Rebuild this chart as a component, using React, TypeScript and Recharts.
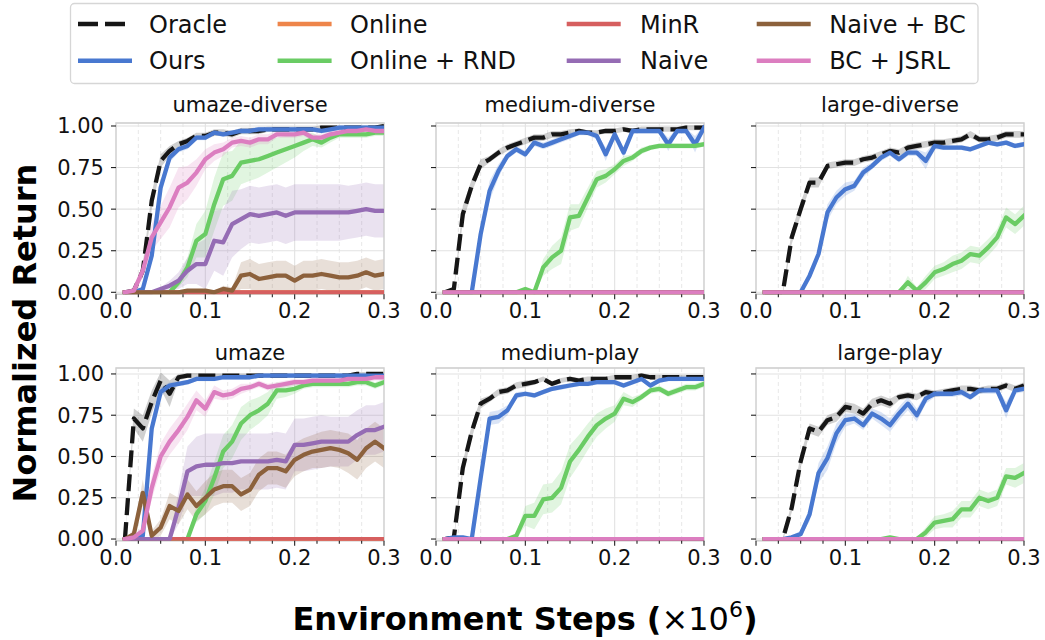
import React from 'react';
import { ComposedChart, Line, Area, XAxis, YAxis, CartesianGrid, ReferenceArea } from 'recharts';

const FONT = '"DejaVu Sans", sans-serif';

// x positions of the samples (x 10^6 environment steps)
const steps = [0.01, 0.02, 0.03, 0.04, 0.05, 0.06, 0.07, 0.08, 0.09, 0.1, 0.11, 0.12, 0.13, 0.14, 0.15, 0.16, 0.17, 0.18, 0.19, 0.2, 0.21, 0.22, 0.23, 0.24, 0.25, 0.26, 0.27, 0.28, 0.29, 0.3];
const xTicks = [0, 0.025, 0.05, 0.075, 0.1, 0.125, 0.15, 0.175, 0.2, 0.225, 0.25, 0.275, 0.3];
const xMinorGrid = [0.025, 0.05, 0.075, 0.125, 0.15, 0.175, 0.225, 0.25, 0.275];
const xMajorGrid = [0.1, 0.2];
const yTicks = [0, 0.25, 0.5, 0.75, 1];
const zeros = [0, 0, 0, 0, 0, 0, 0, 0, 0, 0, 0, 0, 0, 0, 0, 0, 0, 0, 0, 0, 0, 0, 0, 0, 0, 0, 0, 0, 0, 0];

// umaze-diverse
const udOracle = [0, 0.01, 0.13, 0.55, 0.79, 0.85, 0.89, 0.91, 0.94, 0.94, 0.96, 0.96, 0.95, 0.97, 0.97, 0.97, 0.98, 0.98, 0.98, 0.98, 0.98, 0.98, 0.99, 0.99, 0.99, 0.99, 0.99, 0.99, 0.99, 1.0];
const udOracleSd = [0, 0.01, 0.04, 0.05, 0.04, 0.03, 0.02, 0.02, 0.02, 0.02, 0.02, 0.02, 0.02, 0.02, 0.02, 0.02, 0.015, 0.015, 0.015, 0.015, 0.015, 0.015, 0.015, 0.015, 0.012, 0.012, 0.012, 0.012, 0.012, 0.012];
const udOurs = [0, 0, 0.02, 0.22, 0.63, 0.81, 0.86, 0.88, 0.93, 0.93, 0.96, 0.95, 0.96, 0.97, 0.97, 0.98, 0.98, 0.98, 0.98, 0.98, 0.98, 0.98, 0.97, 0.98, 0.99, 0.99, 0.99, 0.99, 0.99, 0.99];
const udOursSd = [0, 0, 0.01, 0.04, 0.04, 0.03, 0.02, 0.02, 0.015, 0.015, 0.015, 0.015, 0.015, 0.015, 0.015, 0.015, 0.015, 0.015, 0.015, 0.015, 0.015, 0.015, 0.015, 0.015, 0.015, 0.015, 0.015, 0.015, 0.015, 0.015];
const udRnd = [0, 0, 0, 0, 0, 0, 0.06, 0.15, 0.31, 0.35, 0.53, 0.68, 0.70, 0.78, 0.79, 0.80, 0.82, 0.84, 0.86, 0.88, 0.90, 0.92, 0.90, 0.93, 0.95, 0.95, 0.95, 0.95, 0.96, 0.96];
const udRndSd = [0, 0, 0, 0, 0, 0, 0.03, 0.06, 0.1, 0.14, 0.16, 0.16, 0.15, 0.13, 0.12, 0.11, 0.1, 0.09, 0.08, 0.07, 0.05, 0.04, 0.03, 0.03, 0.02, 0.02, 0.02, 0.02, 0.02, 0.02];
const udNaive = [0, 0, 0, 0, 0.02, 0.04, 0.07, 0.13, 0.17, 0.17, 0.31, 0.30, 0.41, 0.44, 0.47, 0.46, 0.47, 0.48, 0.46, 0.48, 0.48, 0.48, 0.48, 0.48, 0.48, 0.48, 0.49, 0.50, 0.49, 0.49];
const udNaiveSd = [0, 0, 0, 0, 0.01, 0.03, 0.05, 0.08, 0.12, 0.15, 0.18, 0.2, 0.2, 0.18, 0.17, 0.17, 0.17, 0.17, 0.17, 0.17, 0.17, 0.17, 0.17, 0.17, 0.17, 0.16, 0.16, 0.16, 0.16, 0.16];
const udNaiveBc = [0, 0, 0, 0, 0, 0, 0, 0.01, 0.01, 0.01, 0, 0.02, 0.01, 0.10, 0.11, 0.08, 0.09, 0.10, 0.10, 0.07, 0.10, 0.10, 0.11, 0.10, 0.09, 0.09, 0.10, 0.12, 0.10, 0.11];
const udNaiveBcSd = [0, 0, 0, 0, 0, 0, 0, 0.01, 0.01, 0.01, 0.01, 0.02, 0.02, 0.08, 0.09, 0.09, 0.09, 0.09, 0.09, 0.09, 0.09, 0.09, 0.09, 0.09, 0.09, 0.09, 0.09, 0.09, 0.09, 0.09];
const udJsrl = [0, 0.01, 0.13, 0.33, 0.42, 0.51, 0.63, 0.66, 0.72, 0.80, 0.84, 0.86, 0.90, 0.91, 0.90, 0.92, 0.92, 0.95, 0.95, 0.95, 0.96, 0.93, 0.93, 0.95, 0.96, 0.97, 0.97, 0.98, 0.97, 0.97];
const udJsrlSd = [0, 0.01, 0.04, 0.08, 0.1, 0.12, 0.12, 0.1, 0.08, 0.06, 0.05, 0.04, 0.03, 0.03, 0.03, 0.03, 0.03, 0.02, 0.02, 0.02, 0.02, 0.02, 0.02, 0.02, 0.02, 0.015, 0.015, 0.015, 0.015, 0.015];

// medium-diverse
const mdOracle = [0, 0.02, 0.47, 0.64, 0.77, 0.80, 0.84, 0.87, 0.89, 0.91, 0.93, 0.93, 0.95, 0.95, 0.96, 0.97, 0.96, 0.96, 0.97, 0.97, 0.98, 0.97, 0.98, 0.98, 0.98, 0.98, 0.98, 0.99, 0.99, 0.99];
const mdOracleSd = [0, 0.01, 0.05, 0.04, 0.03, 0.02, 0.02, 0.02, 0.02, 0.02, 0.02, 0.02, 0.02, 0.02, 0.02, 0.015, 0.015, 0.015, 0.015, 0.015, 0.015, 0.015, 0.015, 0.015, 0.015, 0.015, 0.015, 0.015, 0.015, 0.015];
const mdOurs = [0, 0, 0, 0, 0.35, 0.61, 0.73, 0.82, 0.86, 0.83, 0.90, 0.88, 0.90, 0.92, 0.94, 0.96, 0.96, 0.94, 0.83, 0.95, 0.84, 0.97, 0.97, 0.97, 0.97, 0.89, 0.97, 0.97, 0.89, 0.99];
const mdOursSd = [0, 0, 0, 0, 0.04, 0.06, 0.04, 0.02, 0.02, 0.02, 0.02, 0.02, 0.02, 0.02, 0.02, 0.015, 0.015, 0.02, 0.04, 0.02, 0.03, 0.015, 0.015, 0.015, 0.015, 0.04, 0.015, 0.015, 0.05, 0.015];
const mdRnd = [0, 0, 0, 0, 0, 0, 0, 0, 0, 0.02, 0, 0.15, 0.21, 0.25, 0.45, 0.46, 0.57, 0.68, 0.70, 0.74, 0.79, 0.81, 0.85, 0.87, 0.88, 0.88, 0.88, 0.88, 0.88, 0.89];
const mdRndSd = [0, 0, 0, 0, 0, 0, 0, 0, 0, 0.01, 0.01, 0.05, 0.07, 0.08, 0.08, 0.07, 0.06, 0.05, 0.04, 0.03, 0.03, 0.02, 0.02, 0.015, 0.015, 0.015, 0.015, 0.015, 0.015, 0.015];

// large-diverse
const ldOracle = [0, 0, 0, 0.33, 0.50, 0.66, 0.66, 0.76, 0.77, 0.78, 0.78, 0.80, 0.81, 0.83, 0.85, 0.84, 0.87, 0.88, 0.89, 0.90, 0.90, 0.91, 0.92, 0.95, 0.92, 0.92, 0.93, 0.95, 0.95, 0.95];
const ldOracleSd = [0, 0, 0.01, 0.04, 0.04, 0.03, 0.03, 0.02, 0.02, 0.02, 0.02, 0.02, 0.02, 0.02, 0.02, 0.02, 0.02, 0.02, 0.02, 0.02, 0.02, 0.02, 0.02, 0.02, 0.02, 0.02, 0.02, 0.02, 0.02, 0.02];
const ldOurs = [0, 0, 0, 0, 0, 0.10, 0.23, 0.48, 0.57, 0.62, 0.64, 0.72, 0.76, 0.81, 0.84, 0.80, 0.84, 0.84, 0.79, 0.88, 0.87, 0.87, 0.87, 0.86, 0.88, 0.90, 0.89, 0.90, 0.88, 0.89];
const ldOursSd = [0, 0, 0, 0, 0, 0.02, 0.03, 0.05, 0.04, 0.04, 0.03, 0.03, 0.02, 0.02, 0.02, 0.02, 0.02, 0.02, 0.05, 0.02, 0.015, 0.015, 0.015, 0.015, 0.015, 0.015, 0.015, 0.015, 0.015, 0.015];
const ldRnd = [0, 0, 0, 0, 0, 0, 0, 0, 0, 0, 0, 0, 0, 0, 0, 0, 0.06, 0.01, 0.06, 0.12, 0.14, 0.17, 0.19, 0.23, 0.22, 0.27, 0.33, 0.45, 0.41, 0.46];
const ldRndSd = [0, 0, 0, 0, 0, 0, 0, 0, 0, 0, 0, 0, 0, 0, 0, 0, 0.04, 0.02, 0.04, 0.04, 0.04, 0.05, 0.05, 0.05, 0.05, 0.05, 0.05, 0.06, 0.06, 0.06];

// umaze
const uOracle = [0, 0.73, 0.67, 0.83, 0.96, 0.88, 0.98, 0.99, 0.99, 0.99, 0.99, 0.99, 0.99, 0.99, 0.99, 0.99, 0.99, 0.99, 0.99, 0.99, 0.99, 0.99, 0.99, 0.99, 0.99, 0.99, 1.0, 1.0, 1.0, 1.0];
const uOracleSd = [0, 0.06, 0.08, 0.07, 0.05, 0.08, 0.02, 0.015, 0.015, 0.012, 0.012, 0.012, 0.012, 0.012, 0.012, 0.012, 0.012, 0.012, 0.012, 0.012, 0.012, 0.012, 0.012, 0.012, 0.012, 0.012, 0.012, 0.012, 0.012, 0.012];
const uOurs = [0, 0, 0.02, 0.67, 0.89, 0.93, 0.94, 0.95, 0.97, 0.97, 0.97, 0.98, 0.98, 0.98, 0.98, 0.99, 0.99, 0.99, 0.99, 0.99, 0.99, 0.99, 0.99, 0.99, 0.99, 0.99, 0.99, 0.99, 0.99, 0.99];
const uOursSd = [0, 0, 0.01, 0.05, 0.03, 0.02, 0.015, 0.015, 0.015, 0.015, 0.015, 0.015, 0.015, 0.015, 0.015, 0.015, 0.015, 0.015, 0.015, 0.015, 0.015, 0.015, 0.015, 0.015, 0.015, 0.015, 0.015, 0.015, 0.015, 0.015];
const uRnd = [0, 0, 0, 0, 0, 0, 0, 0, 0.15, 0.23, 0.37, 0.53, 0.59, 0.70, 0.75, 0.78, 0.82, 0.90, 0.90, 0.91, 0.93, 0.94, 0.94, 0.94, 0.94, 0.94, 0.95, 0.95, 0.93, 0.95];
const uRndSd = [0, 0, 0, 0, 0, 0, 0, 0, 0.05, 0.08, 0.1, 0.1, 0.1, 0.1, 0.09, 0.08, 0.07, 0.05, 0.04, 0.03, 0.02, 0.02, 0.02, 0.02, 0.02, 0.02, 0.02, 0.02, 0.02, 0.02];
const uNaive = [0, 0, 0, 0, 0, 0, 0.19, 0.41, 0.44, 0.45, 0.45, 0.46, 0.46, 0.47, 0.47, 0.47, 0.47, 0.48, 0.47, 0.57, 0.57, 0.58, 0.59, 0.59, 0.59, 0.59, 0.63, 0.66, 0.66, 0.68];
const uNaiveSd = [0, 0, 0, 0, 0, 0.01, 0.1, 0.15, 0.18, 0.19, 0.19, 0.18, 0.18, 0.17, 0.17, 0.17, 0.17, 0.17, 0.17, 0.16, 0.16, 0.16, 0.16, 0.15, 0.15, 0.15, 0.15, 0.15, 0.15, 0.15];
const uNaiveBc = [0, 0.03, 0.28, 0.02, 0.07, 0.20, 0.17, 0.27, 0.20, 0.25, 0.30, 0.32, 0.32, 0.27, 0.30, 0.39, 0.43, 0.43, 0.41, 0.48, 0.51, 0.53, 0.54, 0.55, 0.54, 0.52, 0.48, 0.55, 0.59, 0.55];
const uNaiveBcSd = [0, 0.03, 0.08, 0.03, 0.05, 0.08, 0.08, 0.09, 0.09, 0.1, 0.1, 0.1, 0.1, 0.1, 0.1, 0.1, 0.1, 0.1, 0.1, 0.1, 0.1, 0.1, 0.11, 0.11, 0.11, 0.12, 0.12, 0.12, 0.12, 0.12];
const uJsrl = [0, 0.01, 0.05, 0.31, 0.50, 0.59, 0.66, 0.74, 0.84, 0.79, 0.89, 0.87, 0.88, 0.91, 0.92, 0.94, 0.92, 0.93, 0.94, 0.95, 0.95, 0.96, 0.96, 0.96, 0.96, 0.97, 0.97, 0.97, 0.98, 0.98];
const uJsrlSd = [0, 0.01, 0.03, 0.07, 0.08, 0.08, 0.08, 0.08, 0.06, 0.05, 0.04, 0.03, 0.03, 0.03, 0.02, 0.02, 0.02, 0.02, 0.02, 0.02, 0.02, 0.02, 0.02, 0.02, 0.02, 0.02, 0.02, 0.02, 0.02, 0.02];

// medium-play
const mpOracle = [0, 0.01, 0.43, 0.65, 0.82, 0.85, 0.89, 0.90, 0.93, 0.94, 0.95, 0.97, 0.94, 0.96, 0.97, 0.96, 0.97, 0.97, 0.97, 0.98, 0.98, 0.98, 0.99, 0.98, 0.98, 0.98, 0.98, 0.98, 0.98, 0.98];
const mpOracleSd = [0, 0.01, 0.04, 0.04, 0.03, 0.02, 0.02, 0.02, 0.02, 0.02, 0.015, 0.015, 0.015, 0.015, 0.015, 0.015, 0.015, 0.015, 0.015, 0.015, 0.015, 0.015, 0.015, 0.015, 0.015, 0.015, 0.015, 0.015, 0.015, 0.015];
const mpOurs = [0, 0.01, 0.01, 0, 0.37, 0.73, 0.74, 0.78, 0.87, 0.88, 0.87, 0.89, 0.91, 0.92, 0.93, 0.94, 0.94, 0.95, 0.95, 0.95, 0.93, 0.95, 0.97, 0.93, 0.96, 0.97, 0.97, 0.97, 0.97, 0.97];
const mpOursSd = [0, 0.01, 0.01, 0.01, 0.03, 0.04, 0.04, 0.03, 0.02, 0.015, 0.015, 0.015, 0.015, 0.015, 0.015, 0.015, 0.015, 0.015, 0.015, 0.015, 0.015, 0.015, 0.015, 0.015, 0.015, 0.015, 0.015, 0.015, 0.015, 0.015];
const mpRnd = [0, 0, 0, 0, 0, 0, 0, 0, 0.02, 0.14, 0.14, 0.24, 0.25, 0.31, 0.47, 0.54, 0.62, 0.69, 0.73, 0.76, 0.85, 0.83, 0.86, 0.90, 0.91, 0.88, 0.90, 0.92, 0.92, 0.94];
const mpRndSd = [0, 0, 0, 0, 0, 0, 0, 0, 0.02, 0.06, 0.08, 0.09, 0.09, 0.1, 0.1, 0.09, 0.08, 0.07, 0.06, 0.05, 0.04, 0.03, 0.02, 0.02, 0.02, 0.02, 0.02, 0.02, 0.02, 0.02];

// large-play
const lpOracle = [0, 0, 0, 0.19, 0.47, 0.67, 0.65, 0.72, 0.74, 0.80, 0.79, 0.76, 0.82, 0.84, 0.82, 0.86, 0.87, 0.86, 0.89, 0.88, 0.89, 0.90, 0.91, 0.91, 0.90, 0.91, 0.91, 0.93, 0.91, 0.93];
const lpOracleSd = [0, 0, 0.01, 0.03, 0.04, 0.03, 0.03, 0.03, 0.03, 0.03, 0.03, 0.03, 0.03, 0.03, 0.03, 0.02, 0.02, 0.02, 0.02, 0.02, 0.02, 0.02, 0.02, 0.02, 0.02, 0.02, 0.02, 0.02, 0.02, 0.02];
const lpOurs = [0, 0, 0, 0.01, 0.03, 0.15, 0.40, 0.49, 0.64, 0.72, 0.73, 0.69, 0.76, 0.73, 0.69, 0.76, 0.82, 0.75, 0.85, 0.88, 0.88, 0.88, 0.89, 0.86, 0.90, 0.90, 0.90, 0.78, 0.90, 0.91];
const lpOursSd = [0, 0, 0, 0.01, 0.02, 0.04, 0.06, 0.07, 0.06, 0.04, 0.03, 0.03, 0.03, 0.04, 0.04, 0.04, 0.04, 0.04, 0.03, 0.02, 0.02, 0.02, 0.02, 0.02, 0.02, 0.02, 0.02, 0.05, 0.02, 0.02];
const lpRnd = [0, 0, 0, 0, 0, 0, 0, 0, 0, 0, 0, 0, 0, 0, 0.01, 0, 0, 0, 0.04, 0.10, 0.11, 0.12, 0.18, 0.18, 0.25, 0.23, 0.25, 0.38, 0.37, 0.40];
const lpRndSd = [0, 0, 0, 0, 0, 0, 0, 0, 0, 0, 0, 0, 0, 0, 0.01, 0, 0, 0.01, 0.03, 0.04, 0.04, 0.05, 0.05, 0.05, 0.05, 0.05, 0.05, 0.05, 0.06, 0.06];

// legend order = drawing order
const methods = [
  { key: 'oracle', name: 'Oracle', color: '#161616', dash: '17 7' },
  { key: 'ours', name: 'Ours', color: '#4878d0' },
  { key: 'online', name: 'Online', color: '#ee854a' },
  { key: 'rnd', name: 'Online + RND', color: '#6acc64' },
  { key: 'minr', name: 'MinR', color: '#d65f5f' },
  { key: 'naive', name: 'Naive', color: '#956cb4' },
  { key: 'naivebc', name: 'Naive + BC', color: '#8c613c' },
  { key: 'jsrl', name: 'BC + JSRL', color: '#dc7ec0' },
];

const panels = [
  {
    title: 'umaze-diverse', row: 0, col: 0,
    values: { oracle: udOracle, ours: udOurs, online: zeros, rnd: udRnd, minr: zeros, naive: udNaive, naivebc: udNaiveBc, jsrl: udJsrl },
    spread: { oracle: udOracleSd, ours: udOursSd, rnd: udRndSd, naive: udNaiveSd, naivebc: udNaiveBcSd, jsrl: udJsrlSd },
  },
  {
    title: 'medium-diverse', row: 0, col: 1,
    values: { oracle: mdOracle, ours: mdOurs, online: zeros, rnd: mdRnd, minr: zeros, naive: zeros, naivebc: zeros, jsrl: zeros },
    spread: { oracle: mdOracleSd, ours: mdOursSd, rnd: mdRndSd },
  },
  {
    title: 'large-diverse', row: 0, col: 2,
    values: { oracle: ldOracle, ours: ldOurs, online: zeros, rnd: ldRnd, minr: zeros, naive: zeros, naivebc: zeros, jsrl: zeros },
    spread: { oracle: ldOracleSd, ours: ldOursSd, rnd: ldRndSd },
  },
  {
    title: 'umaze', row: 1, col: 0,
    values: { oracle: uOracle, ours: uOurs, online: zeros, rnd: uRnd, minr: zeros, naive: uNaive, naivebc: uNaiveBc, jsrl: uJsrl },
    spread: { oracle: uOracleSd, ours: uOursSd, rnd: uRndSd, naive: uNaiveSd, naivebc: uNaiveBcSd, jsrl: uJsrlSd },
  },
  {
    title: 'medium-play', row: 1, col: 1,
    values: { oracle: mpOracle, ours: mpOurs, online: zeros, rnd: mpRnd, minr: zeros, naive: zeros, naivebc: zeros, jsrl: zeros },
    spread: { oracle: mpOracleSd, ours: mpOursSd, rnd: mpRndSd },
  },
  {
    title: 'large-play', row: 1, col: 2,
    values: { oracle: lpOracle, ours: lpOurs, online: zeros, rnd: lpRnd, minr: zeros, naive: zeros, naivebc: zeros, jsrl: zeros },
    spread: { oracle: lpOracleSd, ours: lpOursSd, rnd: lpRndSd },
  },
];

// layout of the 2x3 grid of axes
const colLeft = [116, 436, 756];
const PLOT_W = 268;
const Y_AXIS_W = 62;
const M_TOP = 14;
const M_RIGHT = 16;
const X_AXIS_H = 34;
const rowLayout = [
  { top: 123.3, height: 171.3, yMin: -0.012, yMax: 1.018, titleY: 111.5 },
  { top: 368.3, height: 172.7, yMin: -0.01, yMax: 1.036, titleY: 360 },
];

const buildRows = (p: any) =>
  steps.map((s, i) => {
    const r: any = { x: s };
    methods.forEach((m) => {
      const v = p.values[m.key][i];
      r[m.key] = v;
      const sd = p.spread[m.key];
      if (sd) r[m.key + 'Band'] = [v - sd[i], v + sd[i]];
    });
    return r;
  });

const gridAt = (vals: number[]) => (props: any) => {
  const { xAxis, offset } = props;
  return vals.map((v) =>
    xAxis && typeof xAxis.scale === 'function' ? xAxis.scale(v) : offset.left + (v / 0.3) * offset.width
  );
};

const XTick = (props: any) => {
  const { x, y, payload } = props;
  const v = payload.value as number;
  const major = Math.abs(v * 10 - Math.round(v * 10)) < 1e-6;
  return (
    <g>
      <line x1={x} x2={x} y1={y} y2={y + (major ? 5 : 3)} stroke="#222" strokeWidth={1.1} />
      {major && (
        <text x={x} y={y + 24} textAnchor="middle" fontSize={21} fontFamily={FONT} fill="#111">
          {v.toFixed(1)}
        </text>
      )}
    </g>
  );
};

const Panel = ({ p }: { p: any }) => {
  const lay = rowLayout[p.row];
  const data = buildRows(p);
  const showY = p.col === 0;
  return (
    <div style={{ position: 'absolute', left: colLeft[p.col] - Y_AXIS_W, top: lay.top - M_TOP }}>
      <ComposedChart
        width={Y_AXIS_W + PLOT_W + M_RIGHT}
        height={M_TOP + lay.height + X_AXIS_H}
        data={data}
        margin={{ top: M_TOP, right: M_RIGHT, bottom: 0, left: 0 }}
      >
        <CartesianGrid horizontal={false} stroke="#e8e8e8" strokeDasharray="4 3" verticalCoordinatesGenerator={gridAt(xMinorGrid)} />
        <CartesianGrid stroke="#e2e2e2" strokeWidth={1.1} verticalCoordinatesGenerator={gridAt(xMajorGrid)} />
        <XAxis
          dataKey="x"
          type="number"
          domain={[0, 0.3]}
          ticks={xTicks}
          interval={0}
          allowDataOverflow
          height={X_AXIS_H}
          tickSize={0}
          tickMargin={0}
          tickLine={false}
          axisLine={false}
          tick={(tp: any) => <XTick {...tp} />}
        />
        <YAxis
          type="number"
          domain={[lay.yMin, lay.yMax]}
          ticks={yTicks}
          interval={0}
          allowDataOverflow
          width={Y_AXIS_W}
          tickSize={5}
          tickMargin={7}
          tickLine={{ stroke: '#222', strokeWidth: 1.1 }}
          axisLine={false}
          tick={{ fontSize: 21, fill: '#111', fontFamily: FONT }}
          tickFormatter={(v: number) => (showY ? v.toFixed(2) : '')}
        />
        {methods
          .filter((m) => p.spread[m.key])
          .map((m) => (
            <Area
              key={m.key + 'Band'}
              dataKey={m.key + 'Band'}
              type="linear"
              stroke="none"
              fill={m.color}
              fillOpacity={0.2}
              dot={false}
              activeDot={false}
              isAnimationActive={false}
            />
          ))}
        {methods.map((m) => (
          <Line
            key={m.key}
            dataKey={m.key}
            type="linear"
            stroke={m.color}
            strokeWidth={4.3}
            strokeDasharray={m.dash}
            strokeLinecap={m.dash ? 'butt' : 'square'}
            strokeLinejoin="round"
            dot={false}
            activeDot={false}
            isAnimationActive={false}
          />
        ))}
        <ReferenceArea x1={0} x2={0.3} y1={lay.yMin} y2={lay.yMax} fill="none" stroke="#d0d0d0" strokeWidth={1.5} ifOverflow="visible" />
      </ComposedChart>
    </div>
  );
};

const legendHandleX = [78, 277.6, 566.7, 756.7];
const legendTextX = [149, 350, 640, 829.3];
const legendRowY = [24, 60.7];

export default function App() {
  return (
    <div style={{ position: 'absolute', left: 0, top: 0, width: 1045, height: 640, background: '#fff', fontFamily: FONT }}>
      <svg width={1045} height={640} style={{ position: 'absolute', left: 0, top: 0 }}>
        <rect x={70.5} y={3.5} width={907.5} height={80} rx={4} fill="#fff" stroke="#d6d6d6" strokeWidth={1.3} />
        {methods.map((m, i) => {
          const c = Math.floor(i / 2);
          const y = legendRowY[i % 2];
          return (
            <g key={m.key}>
              <line
                x1={legendHandleX[c]}
                x2={legendHandleX[c] + 54}
                y1={y}
                y2={y}
                stroke={m.color}
                strokeWidth={4.5}
                strokeDasharray={m.dash ? '20 7' : undefined}
              />
              <text x={legendTextX[c]} y={y} dy="0.36em" fontSize={24} fontFamily={FONT} fill="#111">
                {m.name}
              </text>
            </g>
          );
        })}
        {panels.map((p) => (
          <text
            key={p.title}
            x={colLeft[p.col] + PLOT_W / 2}
            y={rowLayout[p.row].titleY}
            textAnchor="middle"
            fontSize={21}
            fontFamily={FONT}
            fill="#111"
          >
            {p.title}
          </text>
        ))}
        <text transform="translate(36,333) rotate(-90)" textAnchor="middle" fontSize={32} fontWeight="bold" fontFamily={FONT} fill="#000">
          Normalized Return
        </text>
        <text x={525} y={630} textAnchor="middle" fontSize={32} fontWeight="bold" fontFamily={FONT} fill="#000">
          Environment Steps (<tspan fontWeight="normal">×10</tspan>
          <tspan fontWeight="normal" fontSize={22} dy={-13}>6</tspan>
          <tspan dy={13}>)</tspan>
        </text>
      </svg>
      {panels.map((p) => (
        <Panel key={p.title} p={p} />
      ))}
    </div>
  );
}
